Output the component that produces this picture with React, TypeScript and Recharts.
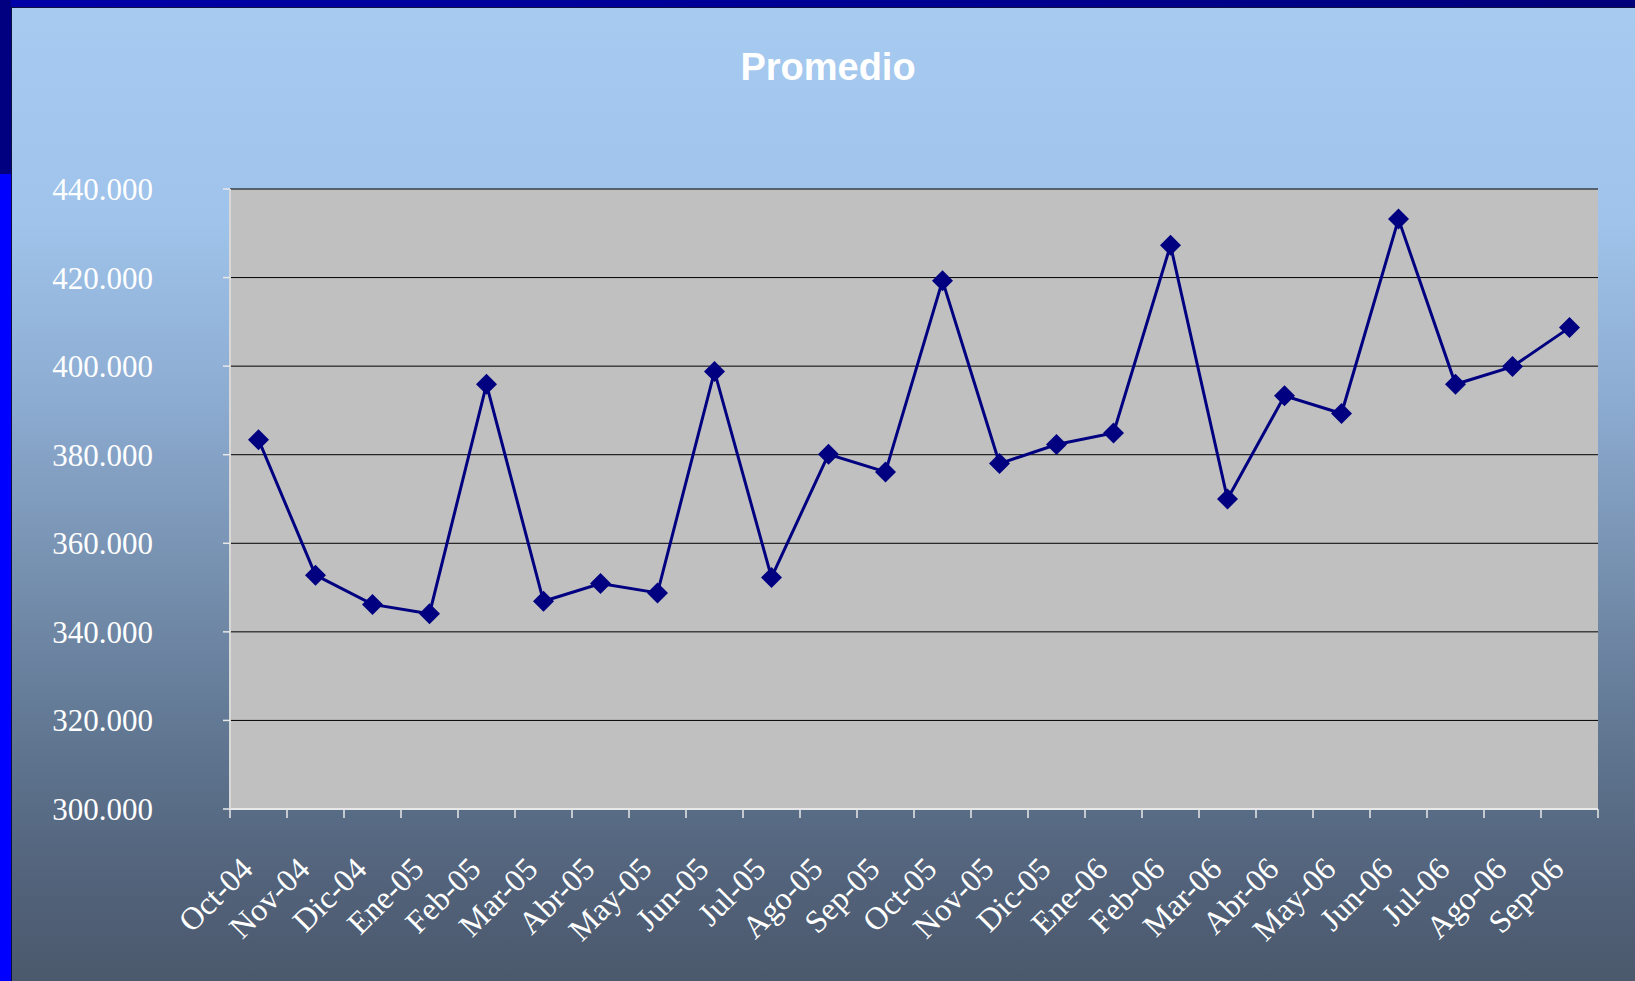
import { CartesianGrid, Line, LineChart, XAxis, YAxis } from "recharts";

const meses = [
  "Oct-04", "Nov-04", "Dic-04", "Ene-05", "Feb-05", "Mar-05", "Abr-05", "May-05",
  "Jun-05", "Jul-05", "Ago-05", "Sep-05", "Oct-05", "Nov-05", "Dic-05", "Ene-06",
  "Feb-06", "Mar-06", "Abr-06", "May-06", "Jun-06", "Jul-06", "Ago-06", "Sep-06",
];

const promedio = [
  383400, 352800, 346200, 344100, 395900, 346900, 350900, 348800,
  398800, 352300, 380100, 376100, 419300, 378000, 382300, 384900,
  427300, 370000, 393300, 389300, 433200, 395900, 399900, 408700,
];

const yTicks = [300000, 320000, 340000, 360000, 380000, 400000, 420000, 440000];

const data = meses.map((mes, i) => ({ mes, promedio: promedio[i] }));

const W = 1635;
const H = 981;
const PLOT_W = 1368;
const HALF = PLOT_W / meses.length / 2;

const fmt = (v: number) => String(Math.round(v)).replace(/\B(?=(\d{3})+(?!\d))/g, ".");

function MesTick({ x, y, payload, index }: any) {
  const tx = x - 4;
  const ty = y + 62;
  return (
    <g>
      <line x1={x - HALF} y1={y} x2={x - HALF} y2={y + 9} stroke="#E8E8E8" strokeWidth={1.5} />
      {index === meses.length - 1 && (
        <line x1={x + HALF} y1={y} x2={x + HALF} y2={y + 9} stroke="#E8E8E8" strokeWidth={1.5} />
      )}
      <text
        x={tx}
        y={ty}
        transform={`rotate(-45 ${tx} ${ty})`}
        textAnchor="end"
        fill="#FFFFFF"
        fontFamily="'Liberation Serif', 'Times New Roman', serif"
        fontSize={32}
      >
        {payload.value}
      </text>
    </g>
  );
}

function Rombo({ cx, cy }: any) {
  if (cx == null || cy == null) return null;
  const r = 10.5;
  return (
    <polygon
      points={`${cx},${cy - r} ${cx + r},${cy} ${cx},${cy + r} ${cx - r},${cy}`}
      fill="#000080"
    />
  );
}

export default function App() {
  return (
    <div style={{ position: "fixed", left: 0, top: 0, width: W, height: H, overflow: "hidden" }}>
      {/* marco */}
      <div style={{ position: "absolute", left: 0, top: 0, width: W, height: 7, background: "linear-gradient(90deg, #0000A8, #000090 60%, #00007A)" }} />
      <div style={{ position: "absolute", left: 0, top: 0, width: 11, height: 174, background: "#000080" }} />
      <div style={{ position: "absolute", left: 0, top: 174, width: 11, height: H - 174, background: "#0000FF" }} />
      <div
        style={{
          position: "absolute",
          left: 11,
          top: 7,
          width: W - 11,
          height: H - 7,
          borderLeft: "1px solid #101040",
          borderTop: "1px solid #101040",
          boxSizing: "border-box",
          background:
            "linear-gradient(180deg, #A6CAF0 0%, #9FC3EA 22%, #8DACD2 40%, #7690AF 58%, #5F7590 76%, #52627A 90%, #4B596C 100%)",
        }}
      />
      <div
        style={{
          position: "absolute",
          left: 0,
          top: 48,
          width: 1656,
          textAlign: "center",
          color: "#FFFFFF",
          fontFamily: "'Liberation Sans', Arial, sans-serif",
          fontWeight: "bold",
          fontSize: 38,
          lineHeight: "38px",
        }}
      >
        Promedio
      </div>
      <div style={{ position: "absolute", left: 0, top: 0 }}>
        <LineChart width={W} height={H} data={data} margin={{ top: 189, right: 37, bottom: 0, left: 0 }}>
          <CartesianGrid vertical={false} stroke="#000000" strokeWidth={1} fill="#C0C0C0" />
          <XAxis
            dataKey="mes"
            height={172}
            interval={0}
            padding={{ left: HALF, right: HALF }}
            axisLine={{ stroke: "#E8E8E8", strokeWidth: 2 }}
            tickLine={false}
            tickSize={0}
            tickMargin={0}
            tick={<MesTick />}
          />
          <XAxis xAxisId="top" dataKey="mes" orientation="top" height={0} tick={false} tickLine={false} axisLine={{ stroke: "#808080", strokeWidth: 3 }} />
          <YAxis
            domain={[300000, 440000]}
            ticks={yTicks}
            interval={0}
            width={230}
            tickFormatter={fmt}
            axisLine={{ stroke: "#D8D8D8", strokeWidth: 2 }}
            tickLine={{ stroke: "#E8E8E8", strokeWidth: 1.5 }}
            tickSize={7}
            tickMargin={70}
            tick={{ fill: "#FFFFFF", fontSize: 31, fontFamily: "'Liberation Serif', 'Times New Roman', serif" }}
          />
          <YAxis
            yAxisId="right"
            orientation="right"
            domain={[300000, 440000]}
            width={0}
            tick={false}
            tickLine={false}
            axisLine={{ stroke: "#808080", strokeWidth: 3 }}
          />
          <Line
            type="linear"
            dataKey="promedio"
            stroke="#000080"
            strokeWidth={3}
            dot={<Rombo />}
            activeDot={false}
            isAnimationActive={false}
          />
        </LineChart>
      </div>
    </div>
  );
}
